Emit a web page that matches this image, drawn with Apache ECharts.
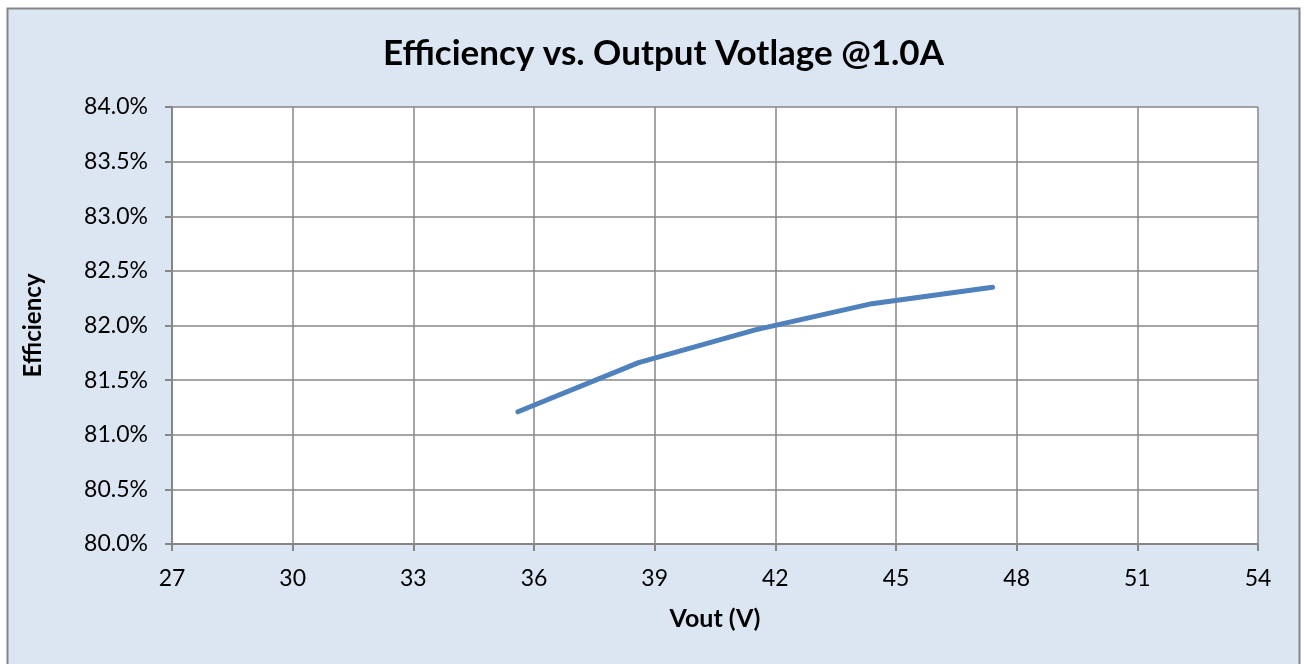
<!DOCTYPE html>
<html><head><meta charset="utf-8">
<script src="https://cdn.jsdelivr.net/npm/echarts@6/dist/echarts.min.js"></script>
<style>html,body{margin:0;padding:0;background:#fff}#c{width:1304px;height:664px}</style>
</head><body><div id="c"></div>
<script>
const titleText = 'Efficiency vs. Output Votlage @1.0A';
const xName = 'Vout (V)';
const yName = 'Efficiency';
const vout = [35.6, 38.6, 41.5, 44.4, 47.4];
const efficiency = [81.21, 81.66, 81.96, 82.20, 82.35];
const xTicks = [27, 30, 33, 36, 39, 42, 45, 48, 51, 54];
const yTicks = [80.0, 80.5, 81.0, 81.5, 82.0, 82.5, 83.0, 83.5, 84.0];

const font = 'Lato, "Open Sans", sans-serif';
const chart = echarts.init(document.getElementById('c'), null, {renderer: 'canvas'});
chart.setOption({
  animation: false,
  backgroundColor: '#ffffff',
  graphic: [{
    type: 'rect', z: -10, silent: true,
    shape: {x: 7.5, y: 8.5, width: 1292, height: 680},
    style: {fill: '#DCE6F2', stroke: '#868686', lineWidth: 2}
  }],
  title: {
    text: titleText, left: 378, top: 31,
    textStyle: {fontFamily: font, fontWeight: 'bold', fontSize: 35, color: '#000'}
  },
  grid: {left: 172, top: 107, width: 1086, height: 437, containLabel: false, show: true, backgroundColor: '#fff', borderWidth: 0},
  xAxis: {
    type: 'value', min: xTicks[0], max: xTicks[xTicks.length - 1], interval: 3,
    name: xName, nameLocation: 'middle', nameGap: 62,
    nameTextStyle: {fontFamily: font, fontWeight: 'bold', fontSize: 25, color: '#000'},
    axisLine: {show: true, lineStyle: {color: '#868686', width: 2}},
    axisTick: {show: true, length: 7, inside: false, lineStyle: {color: '#868686', width: 2}},
    axisLabel: {fontFamily: font, fontSize: 23, color: '#000', margin: 23},
    splitLine: {show: true, lineStyle: {color: '#878787', width: 1.5}}
  },
  yAxis: {
    type: 'value', min: yTicks[0], max: yTicks[yTicks.length - 1], interval: 0.5,
    name: yName, nameLocation: 'middle', nameGap: 127, nameRotate: 90,
    nameTextStyle: {fontFamily: font, fontWeight: 'bold', fontSize: 24, color: '#000'},
    axisLine: {show: true, lineStyle: {color: '#868686', width: 2}},
    axisTick: {show: true, length: 7, lineStyle: {color: '#868686', width: 2}},
    axisLabel: {fontFamily: font, fontSize: 23, color: '#000', margin: 24, formatter: v => v.toFixed(1) + '%'},
    splitLine: {show: true, lineStyle: {color: '#878787', width: 1.5}}
  },
  series: [{
    type: 'line', data: vout.map((v, i) => [v, efficiency[i]]),
    showSymbol: false, symbol: 'none',
    lineStyle: {color: '#4F81BD', width: 5, cap: 'round', join: 'round'}
  }]
});
</script></body></html>
